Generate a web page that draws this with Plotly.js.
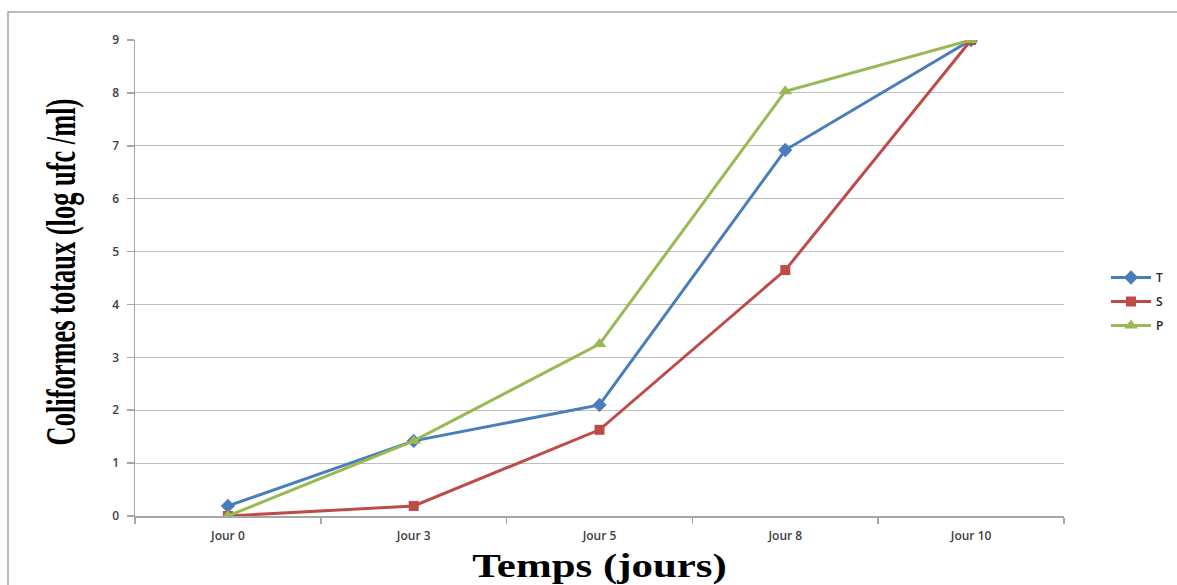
<!DOCTYPE html>
<html>
<head>
<meta charset="utf-8">
<script src="https://cdn.plot.ly/plotly-3.0.1.min.js"></script>
<style>
html,body{margin:0;padding:0;background:#fff;}
#chart{width:1177px;height:585px;}
</style>
</head>
<body>
<div id="chart"></div>
<script>
const categories = ["Jour 0", "Jour 3", "Jour 5", "Jour 8", "Jour 10"];
const seriesT = [0.19, 1.42, 2.1, 6.92, 9.0];
const seriesS = [0.0, 0.19, 1.63, 4.65, 9.0];
const seriesP = [0.0, 1.42, 3.25, 8.03, 9.0];
const yTicks = [0, 1, 2, 3, 4, 5, 6, 7, 8, 9];

const traces = [
  {name: "T", legendgroup: "t", x: categories, y: seriesT, mode: "lines+markers", type: "scatter",
   line: {color: "#4a7ebb", width: 3}, marker: {symbol: "diamond", size: 11, color: "#4a7ebb"}},
  {name: "S", legendgroup: "s", x: categories, y: seriesS, mode: "lines+markers", type: "scatter",
   line: {color: "#be4b48", width: 3}, marker: {symbol: "square", size: 10, color: "#be4b48"}},
  {name: "P", legendgroup: "p", x: categories, y: seriesP, mode: "lines+markers", type: "scatter",
   line: {color: "#98b954", width: 3}, marker: {symbol: "triangle-up", size: 12, color: "#98b954"}}
];

const L = 135, R = 113, T = 40, B = 69;
const W = 1177 - L - R, H = 585 - T - B;
const px = v => (v - L) / W;
const py = v => (585 - B - v) / H;

const layout = {
  width: 1177, height: 585,
  margin: {l: L, r: R, t: T, b: B, autoexpand: false},
  paper_bgcolor: "#ffffff", plot_bgcolor: "#ffffff",
  showlegend: true,
  legend: {x: px(1106), y: py(263), xanchor: "left", yanchor: "top",
           traceorder: "grouped", tracegroupgap: 5,
           font: {family: "Open Sans, Liberation Sans", size: 12, color: "#262626", weight: 600},
           itemwidth: 40},
  xaxis: {
    type: "category", range: [-0.5, 4.5], automargin: false,
    showline: true, linecolor: "#a6a6a6", linewidth: 1.5,
    ticks: "outside", tickson: "boundaries", ticklen: 6, tickcolor: "#a6a6a6", tickwidth: 1.5,
    ticklabelstandoff: 8,
    showgrid: false, zeroline: false,
    tickfont: {family: "Open Sans, Liberation Sans", size: 12, color: "#404040", weight: 600},
    title: {text: "<b>Temps (jours)</b>", standoff: 12,
            font: {family: "Liberation Serif, Times New Roman", size: 33, color: "#000"}}
  },
  yaxis: {
    range: [0, 9], tickvals: yTicks, automargin: false,
    showline: true, linecolor: "#a6a6a6", linewidth: 1.5,
    ticks: "outside", ticklen: 7, tickcolor: "#a6a6a6", tickwidth: 1.5,
    ticklabelstandoff: 5,
    showgrid: true, gridcolor: "#bfbfbf", gridwidth: 1.2, zeroline: false,
    tickfont: {family: "Open Sans, Liberation Sans", size: 12, color: "#404040", weight: 600},
    title: {text: "<b>Coliformes totaux (log ufc /ml)</b>", standoff: 23,
            font: {family: "Liberation Serif, Times New Roman", size: 42, color: "#000"}}
  },
  shapes: [{
    type: "rect", xref: "paper", yref: "paper",
    x0: px(8), x1: px(1190), y0: py(600), y1: py(12),
    line: {color: "#a6a6a6", width: 1.5}, fillcolor: "rgba(0,0,0,0)", layer: "below"
  }]
};

function stretchTitle(sel, sx, dx) {
  const t = document.querySelector(sel);
  if (!t) return;
  const x = parseFloat(t.getAttribute("x"));
  const y = parseFloat(t.getAttribute("y"));
  const tr = t.getAttribute("transform") || "";
  t.setAttribute("transform", tr + ` translate(${x + dx},${y}) scale(${sx},1) translate(${-x},${-y})`);
}

Plotly.newPlot("chart", traces, layout, {displayModeBar: false, staticPlot: true}).then(() => {
  stretchTitle(".g-xtitle text", 1.3, 0);
  stretchTitle(".g-ytitle text", 0.63, 6);
});
</script>
</body>
</html>
